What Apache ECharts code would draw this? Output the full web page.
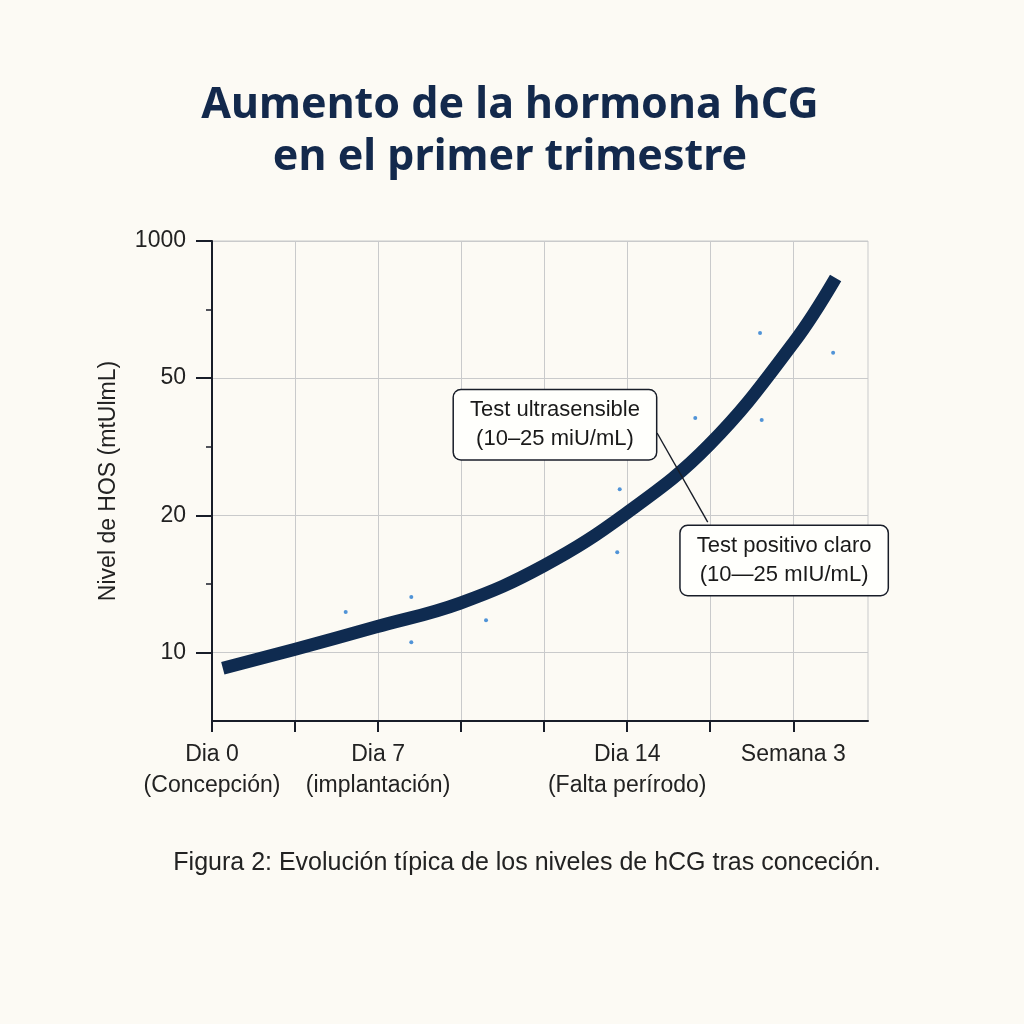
<!DOCTYPE html>
<html>
<head>
<meta charset="utf-8">
<script src="https://cdn.jsdelivr.net/npm/echarts@6/dist/echarts.min.js"></script>
<style>
html,body{margin:0;padding:0;background:#fcfaf4;}
#c{width:1024px;height:1024px;}
</style>
</head>
<body>
<div id="c"></div>
<script>
// ---- data ----
const titleText = 'Aumento de la hormona hCG\nen el primer trimestre';
const captionText = 'Figura 2: Evolución típica de los niveles de hCG tras conceción.';
const yAxisName = 'Nivel de HOS (mtUlmL)';

// x axis: one step per grid column; labelled steps
const xLabelSteps = [0, 2, 5, 7];
const xLabels = ['Dia 0\n(Concepción)', 'Dia 7\n(implantación)', 'Dia 14\n(Falta perírodo)', 'Semana 3'];
const xTickSteps = [0, 1, 2, 3, 4, 5, 6, 7];

// y axis: one step per grid row; labelled steps
const yLabelSteps = [1, 3, 5, 7];
const yLabels = ['10', '20', '50', '1000'];
const yMinorSteps = [2, 4, 6];

// hCG curve (in axis steps)
const curveX = [0.13, 0.98, 1.97, 2.99, 3.99, 4.99, 5.99, 7.0, 7.51];
const curveY = [0.77, 1.04, 1.37, 1.72, 2.26, 3.03, 4.03, 5.51, 6.46];

// scattered measurements
const dotX = [1.61, 2.40, 2.40, 3.30, 4.91, 4.88, 5.82, 6.60, 6.62, 7.48];
const dotY = [1.59, 1.81, 1.15, 1.47, 3.38, 2.46, 4.42, 5.66, 4.39, 5.37];

// callouts
const calloutTexts = ['Test ultrasensible\n(10–25 miU/mL)', 'Test positivo claro\n(10—25 mIU/mL)'];
const calloutX = [4.13, 6.89];
const calloutY = [4.32, 2.34];
const connectorX = [5.36, 5.97];
const connectorY = [4.20, 2.90];

// ---- chart ----
const ink = '#181d28';
const gridGray = '#c9cacb';
const navy = '#0f2b50';
const font = '"Liberation Sans", Arial, sans-serif';

const chart = echarts.init(document.getElementById('c'), null, {renderer: 'canvas'});

const curveData = curveX.map((x, i) => [x, curveY[i]]);
const dotData = dotX.map((x, i) => [x, dotY[i]]);

chart.setOption({
  backgroundColor: '#fcfaf4',
  animation: false,
  title: [
    {
      text: titleText,
      left: 505,
      top: 75,
      textAlign: 'center',
      textStyle: {fontFamily: '"Noto Sans", sans-serif', fontWeight: 'bold', fontSize: 43, lineHeight: 52, color: '#13294c'}
    },
    {
      text: captionText,
      left: 522,
      top: 846,
      textAlign: 'center',
      textStyle: {fontFamily: font, fontWeight: 'normal', fontSize: 25, color: '#222'}
    }
  ],
  grid: {left: 212, right: 156, top: 241, bottom: 303, show: true, borderColor: gridGray, borderWidth: 1, backgroundColor: 'transparent'},
  xAxis: {
    type: 'value', min: 0, max: 7.9, interval: 1,
    axisLine: {show: true, lineStyle: {color: ink, width: 2}},
    axisTick: {show: true, customValues: xTickSteps, length: 11, lineStyle: {color: ink, width: 2}},
    axisLabel: {
      customValues: xLabelSteps, margin: 18, fontFamily: font, fontSize: 23, lineHeight: 31, color: '#222',
      formatter: v => { const i = xLabelSteps.indexOf(v); return i >= 0 ? xLabels[i] : ''; }
    },
    splitLine: {show: true, lineStyle: {color: gridGray, width: 1}}
  },
  yAxis: [
    {
      type: 'value', min: 0, max: 7, interval: 1, position: 'left',
      name: yAxisName, nameLocation: 'middle', nameGap: 92, nameRotate: 90,
      nameTextStyle: {fontFamily: font, fontSize: 23, color: '#222'},
      axisLine: {show: true, lineStyle: {color: ink, width: 2}},
      axisTick: {show: true, customValues: yLabelSteps, length: 16, lineStyle: {color: ink, width: 2}},
      axisLabel: {
        customValues: yLabelSteps, margin: 26, fontFamily: font, fontSize: 23, color: '#222',
        formatter: v => { const i = yLabelSteps.indexOf(v); return i >= 0 ? yLabels[i] : ''; }
      },
      splitLine: {show: true, lineStyle: {color: gridGray, width: 1}}
    },
    {
      type: 'value', min: 0, max: 7, interval: 1, position: 'left', offset: 0,
      axisLine: {show: false},
      axisTick: {show: true, customValues: yMinorSteps, length: 6, lineStyle: {color: ink, width: 1.5}},
      axisLabel: {show: false},
      splitLine: {show: false}
    }
  ],
  series: [
    {
      type: 'scatter', z: 2, data: dotData, symbolSize: 4,
      itemStyle: {color: '#2479cf'},
      markLine: {
        silent: true, symbol: ['none', 'none'], label: {show: false},
        lineStyle: {color: ink, width: 1.4, type: 'solid'},
        data: [[{coord: [connectorX[0], connectorY[0]]}, {coord: [connectorX[1], connectorY[1]]}]]
      }
    },
    {
      type: 'line', z: 3, data: curveData, smooth: 0.4, showSymbol: false,
      lineStyle: {color: navy, width: 13, cap: 'butt', join: 'round'}
    },
    {
      type: 'scatter', z: 5, data: [], silent: true,
      markPoint: {
        symbol: 'circle', symbolSize: 1, itemStyle: {color: 'rgba(0,0,0,0)'},
        label: {
          show: true, position: 'inside', align: 'center', verticalAlign: 'middle',
          fontFamily: font, fontSize: 22, lineHeight: 29, color: '#1a1a1a',
          backgroundColor: '#fffffc', borderColor: ink, borderWidth: 1.5, borderRadius: 7,
          padding: [6, 16, 5, 16],
          formatter: p => p.name
        },
        data: calloutTexts.map((t, i) => ({name: t, coord: [calloutX[i], calloutY[i]]}))
      }
    }
  ]
});
</script>
</body>
</html>
